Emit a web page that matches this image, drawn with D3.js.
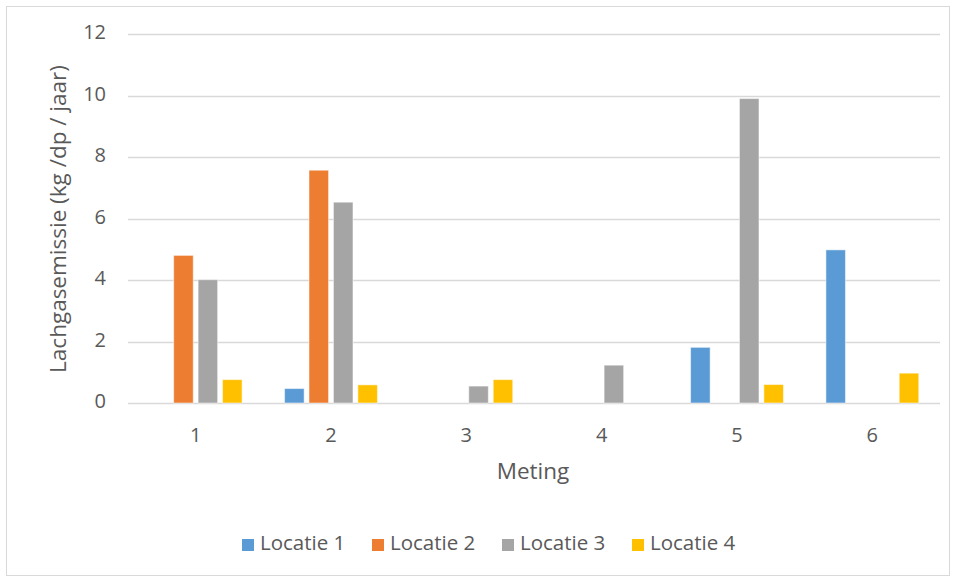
<!DOCTYPE html>
<html>
<head>
<meta charset="utf-8">
<script src="https://cdn.jsdelivr.net/npm/d3@7"></script>
<style>
  body { margin: 0; background: #fff; }
  text { font-family: "Open Sans", "Noto Sans", sans-serif; fill: #595959; }
</style>
</head>
<body>
<div id="canvas"></div>
<script>
"use strict"
let svgWidth = 957;
let svgHeight = 579;

let marginLeft = 128;
let marginRight = 17;
let marginTop = 34;
let marginBottom = 176;

// data
let metingen = ["1", "2", "3", "4", "5", "6"];
let locaties = ["Locatie 1", "Locatie 2", "Locatie 3", "Locatie 4"];
let locatie1 = [0, 0.47, 0, 0, 1.81, 4.98];
let locatie2 = [4.8, 7.57, 0, 0, 0, 0];
let locatie3 = [4.01, 6.53, 0.55, 1.23, 9.9, 0];
let locatie4 = [0.76, 0.59, 0.76, 0, 0.6, 0.97];
let yTicks = [0, 2, 4, 6, 8, 10, 12];
let colors = ["#5B9BD5", "#ED7D31", "#A5A5A5", "#FFC000"];

let series = [locatie1, locatie2, locatie3, locatie4];

let svg = d3.select("#canvas")
    .append("svg")
    .attr("width", svgWidth)
    .attr("height", svgHeight);

svg.append("rect")
    .attr("x", 6.5)
    .attr("y", 6.5)
    .attr("width", 943)
    .attr("height", 569)
    .attr("fill", "white")
    .attr("stroke", "#D9D9D9")
    .attr("stroke-width", 1);

let x0 = d3.scaleBand()
    .domain(metingen)
    .range([marginLeft, svgWidth - marginRight])
    .padding(0);

let x1 = d3.scaleBand()
    .domain(d3.range(locaties.length))
    .range([0, x0.bandwidth()])
    .paddingInner(0.2)
    .paddingOuter(0.87);

let yScale = d3.scaleLinear()
    .domain([0, 12])
    .range([svgHeight - marginBottom, marginTop]);

// gridlines
svg.append("g")
    .selectAll("line")
    .data(yTicks)
    .join("line")
    .attr("x1", marginLeft)
    .attr("x2", svgWidth - marginRight)
    .attr("y1", d => Math.round(yScale(d)) + 0.5)
    .attr("y2", d => Math.round(yScale(d)) + 0.5)
    .attr("stroke", "#D9D9D9")
    .attr("stroke-width", 1.5);

// y tick labels
svg.append("g")
    .selectAll("text")
    .data(yTicks)
    .join("text")
    .attr("x", 106)
    .attr("y", d => yScale(d))
    .attr("text-anchor", "end")
    .attr("dominant-baseline", "middle")
    .attr("font-size", 20)
    .text(d => d);

// bars
let groups = svg.append("g")
    .selectAll("g")
    .data(metingen)
    .join("g")
    .attr("transform", d => "translate(" + x0(d) + ",0)");

groups.selectAll("rect")
    .data((d, i) => series.map((s, j) => ({ loc: j, value: s[i] })).filter(e => e.value > 0))
    .join("rect")
    .attr("x", d => x1(d.loc))
    .attr("width", x1.bandwidth())
    .attr("y", d => yScale(d.value))
    .attr("height", d => yScale(0) - yScale(d.value))
    .attr("fill", d => colors[d.loc])
    .attr("stroke", "white")
    .attr("stroke-opacity", 0.5)
    .attr("stroke-width", 1);

// x tick labels
svg.append("g")
    .selectAll("text")
    .data(metingen)
    .join("text")
    .attr("x", d => x0(d) + x0.bandwidth() / 2)
    .attr("y", 437)
    .attr("text-anchor", "middle")
    .attr("dominant-baseline", "middle")
    .attr("font-size", 20)
    .text(d => d);

// axis titles
svg.append("text")
    .attr("x", 533)
    .attr("y", 473)
    .attr("text-anchor", "middle")
    .attr("dominant-baseline", "middle")
    .attr("font-size", 22.5)
    .text("Meting");

svg.append("text")
    .attr("transform", "translate(60,219) rotate(-90)")
    .attr("text-anchor", "middle")
    .attr("dominant-baseline", "middle")
    .attr("font-size", 22.5)
    .text("Lachgasemissie (kg /dp / jaar)");

// legend
let legendX = [242, 372, 502, 632];
let legend = svg.append("g")
    .selectAll("g")
    .data(locaties)
    .join("g")
    .attr("transform", (d, i) => "translate(" + legendX[i] + ",545)");

legend.append("rect")
    .attr("x", 0)
    .attr("y", -6)
    .attr("width", 12)
    .attr("height", 12)
    .attr("fill", (d, i) => colors[i]);

legend.append("text")
    .attr("x", 18)
    .attr("y", 0)
    .attr("dominant-baseline", "middle")
    .attr("font-size", 20.5)
    .text(d => d);
</script>
</body>
</html>
